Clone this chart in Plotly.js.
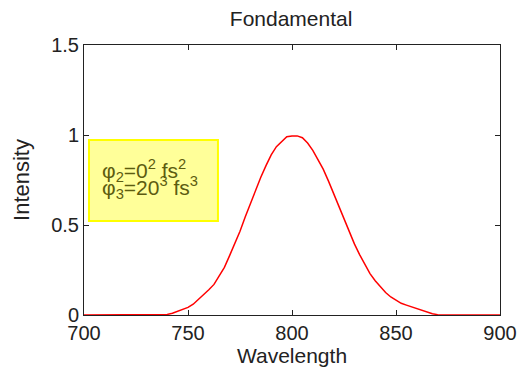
<!DOCTYPE html>
<html>
<head>
<meta charset="utf-8">
<script src="https://cdn.plot.ly/plotly-3.0.1.min.js"></script>
<style>html,body{margin:0;padding:0;background:#fff;}</style>
</head>
<body>
<div id="chart" style="width:518px;height:373px;"></div>
<script>
const wavelength = [700,735,737.5,740,742.5,745,747.5,750,752.5,755,757.5,760,762.5,765,767.5,770,772.5,775,777.5,780,782.5,785,787.5,790,792.5,795,797.5,800,802.5,805,807.5,810,812.5,815,817.5,820,822.5,825,827.5,830,832.5,835,837.5,840,842.5,845,847.5,850,852.5,855,857.5,860,862.5,865,867.5,870,872.5,900];
const intensity  = [0,0,0,0.003,0.01,0.02,0.03,0.042,0.06,0.085,0.11,0.14,0.17,0.215,0.265,0.33,0.395,0.465,0.545,0.62,0.695,0.765,0.83,0.89,0.935,0.965,0.99,0.995,0.995,0.985,0.955,0.915,0.865,0.81,0.745,0.675,0.605,0.53,0.46,0.395,0.335,0.28,0.23,0.19,0.155,0.125,0.1,0.08,0.065,0.055,0.045,0.035,0.025,0.015,0.007,0.002,0,0];
const xTicks = [700,750,800,850,900];
const yTicks = [0,0.5,1,1.5];
const yTickText = ['0','0.5','1','1.5'];
const legendLine1 = 'φ<sub>2</sub>=0<sup>2</sup> fs<sup>2</sup>';
const legendLine2 = 'φ<sub>3</sub>=20<sup>3</sup> fs<sup>3</sup>';

const fam = 'Liberation Sans, Arial, sans-serif';
const tickFont = {family: fam, size: 20, color: '#222'};
const titleFont = {family: fam, size: 21, color: '#222'};
const legendFont = {family: fam, size: 21, color: '#5c5c10'};
const axisCommon = {
  showline: true, linecolor: '#222', linewidth: 1, mirror: 'ticks',
  ticks: 'inside', ticklen: 5, tickcolor: '#222', tickwidth: 1,
  showgrid: false, zeroline: false, tickfont: tickFont
};
Plotly.newPlot('chart', [{
  x: wavelength, y: intensity, type: 'scatter', mode: 'lines',
  line: {color: '#ff0000', width: 1.5}, hoverinfo: 'none'
}], {
  width: 518, height: 373,
  margin: {l: 84, r: 18, t: 45, b: 58, pad: 0},
  paper_bgcolor: '#fff', plot_bgcolor: '#fff',
  showlegend: false,
  title: {text: 'Fondamental', font: titleFont, x: 0.562, xanchor: 'center', y: 0.95, yanchor: 'middle'},
  xaxis: Object.assign({}, axisCommon, {
    range: [700, 900], tickvals: xTicks, ticktext: xTicks.map(String),
    title: {text: 'Wavelength', font: titleFont, standoff: 2}
  }),
  yaxis: Object.assign({}, axisCommon, {
    range: [0, 1.5], tickvals: yTicks, ticktext: yTickText,
    title: {text: 'Intensity', font: {family: fam, size: 22, color: '#222'}, standoff: 15}
  }),
  shapes: [{
    type: 'rect', xref: 'paper', yref: 'paper', x0: 0.012, x1: 0.322, y0: 0.348, y1: 0.648,
    fillcolor: '#ffff99', line: {color: '#ffff00', width: 2}, layer: 'above'
  }],
  annotations: [
    {xref: 'paper', yref: 'paper', x: 0.041, y: 0.534, xanchor: 'left', yanchor: 'middle',
     text: legendLine1, showarrow: false, font: legendFont, borderpad: 0},
    {xref: 'paper', yref: 'paper', x: 0.041, y: 0.471, xanchor: 'left', yanchor: 'middle',
     text: legendLine2, showarrow: false, font: legendFont, borderpad: 0}
  ]
}, {staticPlot: true});
</script>
</body>
</html>
